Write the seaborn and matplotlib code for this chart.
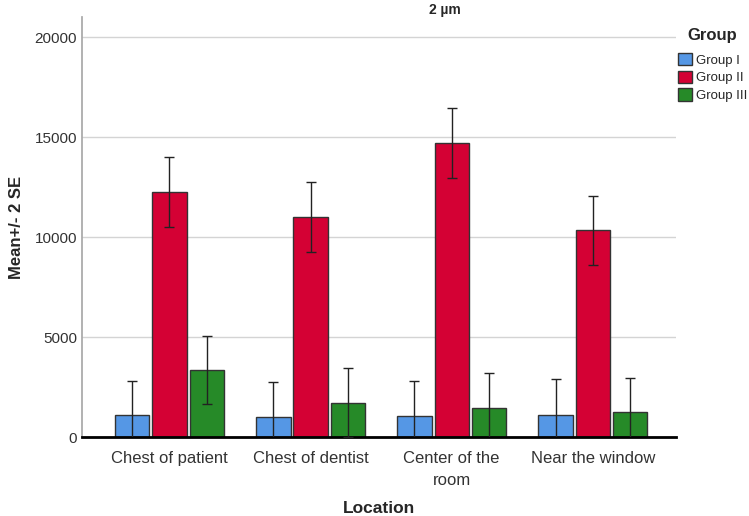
import matplotlib
matplotlib.use('Agg')
import matplotlib.pyplot as plt
import seaborn as sns
import pandas as pd

# values (mean and 2*SE)
locations = ['Chest of patient', 'Chest of dentist', 'Center of the\nroom', 'Near the window']
groups = ['Group I', 'Group II', 'Group III']
group1_mean = [1100, 1020, 1050, 1120]
group2_mean = [12250, 11020, 14700, 10330]
group3_mean = [3340, 1720, 1470, 1250]
group1_2se = [1700, 1750, 1750, 1760]
group2_2se = [1750, 1750, 1750, 1740]
group3_2se = [1710, 1730, 1750, 1700]

colors = ['#5597E5', '#D40134', '#268A28']

rows = []
for g, means, errs in zip(groups, [group1_mean, group2_mean, group3_mean],
                          [group1_2se, group2_2se, group3_2se]):
    for loc, m, e in zip(locations, means, errs):
        rows.append({'Location': loc, 'Group': g, 'mean': m, 'err': e})
df = pd.DataFrame(rows)

sns.set_theme(style='white')
plt.rcParams['font.family'] = ['Liberation Sans', 'DejaVu Sans']

fig = plt.figure(figsize=(7.49, 5.16), dpi=100)
ax = fig.add_axes([0.1095, 0.153, 0.793, 0.814])

sns.barplot(data=df, x='Location', y='mean', hue='Group', order=locations, hue_order=groups,
            palette=colors, saturation=1, width=0.79, gap=0.08, errorbar=None,
            edgecolor='#333333', linewidth=1, ax=ax)

# error bars at the bar centres
for cont, g in zip(ax.containers, groups):
    sub = df[df['Group'] == g].set_index('Location').loc[locations]
    xs = [p.get_x() + p.get_width() / 2 for p in cont.patches]
    ax.errorbar(xs, sub['mean'], yerr=sub['err'], fmt='none', ecolor='#222222',
                elinewidth=1, capsize=3.6, capthick=1, zorder=5)

ax.set_ylim(0, 21000)
ax.set_xlim(-0.62, 3.59)
ax.set_yticks([0, 5000, 10000, 15000, 20000])
ax.yaxis.grid(True, color='#d4d4d4', linewidth=1)
ax.set_axisbelow(True)
ax.tick_params(length=0, labelsize=11, colors='#333333')
ax.tick_params(axis='x', labelsize=12, pad=10)
for lbl in ax.get_xticklabels():
    lbl.set_linespacing(1.55)
for s in ['top', 'right']:
    ax.spines[s].set_visible(False)
ax.spines['left'].set_color('#a8a8a8')
ax.spines['bottom'].set_color('black')
ax.spines['bottom'].set_linewidth(2)

ax.set_xlabel('Location', fontsize=12.5, fontweight='bold')
ax.xaxis.set_label_coords(0.5, -0.152)
ax.set_ylabel('Mean+/- 2 SE', fontsize=12, fontweight='bold', labelpad=8)
fig.text(445 / 749, 1 - 10 / 516, '2 µm', fontsize=10, fontweight='bold', ha='center', va='center')

handles, labels = ax.get_legend_handles_labels()
ax.get_legend().remove()
leg = fig.legend(handles, labels, title='Group', loc='upper left', bbox_to_anchor=(0.898, 0.955),
                 frameon=False, fontsize=9.5, title_fontproperties={'weight': 'bold', 'size': 12},
                 handlelength=1.05, handleheight=1.05, handletextpad=0.3, labelspacing=0.3,
                 borderaxespad=0)
leg._legend_box.sep = 7

fig.savefig('out.png', dpi=100)
